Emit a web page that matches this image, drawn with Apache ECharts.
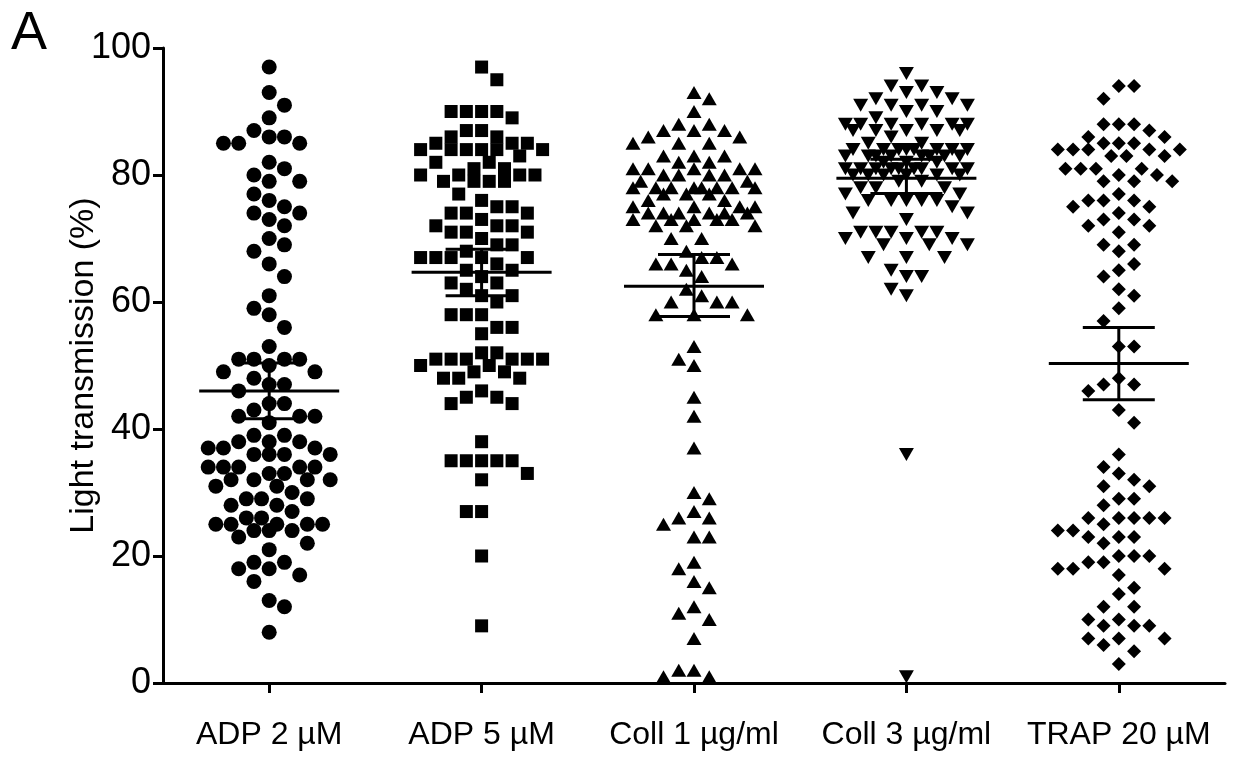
<!DOCTYPE html>
<html>
<head>
<meta charset="utf-8">
<script src="https://cdn.jsdelivr.net/npm/echarts@6/dist/echarts.min.js"></script>
<style>
  html, body { margin: 0; padding: 0; background: #fff; }
  #chart { width: 1252px; height: 759px; }
</style>
</head>
<body>
<div id="chart"></div>
<script>
// group labels
const groups = ["ADP 2 µM", "ADP 5 µM", "Coll 1 µg/ml", "Coll 3 µg/ml", "TRAP 20 µM"];

// light transmission (%) per donor
const adp2 = [97, 93, 91, 89, 87, 86, 86, 85, 85, 85, 82, 81, 80, 79, 79, 77, 76, 75, 74, 74, 73, 72, 70, 69, 68, 66, 64, 61, 59, 58, 56, 53,
  51, 51, 51, 51, 50, 49, 49, 48, 47, 47, 46, 44, 44, 43, 42, 42, 42, 41, 39, 39, 38, 38, 38, 37, 37, 37, 36, 36, 36, 36,
  34, 34, 34, 34, 34, 33, 33, 32, 32, 32, 32, 31, 31, 30, 29, 29, 29, 28, 28, 27, 26, 26, 25, 25, 25, 25, 25, 24, 24, 24,
  23, 22, 21, 19, 19, 18, 18, 17, 16, 13, 12, 8];
const adp5 = [97, 95, 90, 90, 90, 90, 89, 87, 87, 86, 86, 85, 85, 85, 84, 84, 84, 84, 84, 84, 83, 82, 82, 81, 81, 80, 80, 80, 80,
  79, 79, 79, 79, 77, 76, 75, 75, 74, 74, 74, 73, 72, 72, 72, 71, 71, 71, 70, 69, 69, 68, 67, 67, 67, 67, 67, 66, 65, 65,
  64, 63, 63, 62, 61, 61, 60, 58, 58, 58, 56, 56, 55, 52, 52, 51, 51, 51, 51, 51, 51, 50, 50, 49, 49, 48, 48, 48, 46, 45, 45,
  44, 44, 38, 35, 35, 35, 35, 35, 33, 32, 27, 27, 20, 9];
const coll1 = [93, 92, 90, 88, 88, 87, 87, 87, 86, 86, 85, 85, 85, 83, 83, 83, 82, 82, 81, 81, 81, 81, 81, 80, 80, 80, 80, 79, 79,
  78, 78, 78, 78, 78, 78, 78, 78, 77, 77, 77, 76, 76, 75, 75, 75, 75, 74, 74, 74, 74, 74, 74, 73, 73, 73, 73, 73, 72, 72, 72,
  70, 70, 68, 67, 67, 66, 66, 66, 65, 64, 62, 61, 60, 60, 60, 58, 58, 58, 53, 51, 50, 45, 42, 37, 30, 29, 27, 26, 26, 25,
  23, 23, 19, 18, 16, 15, 12, 11, 10, 7, 2, 2, 1, 1];
const coll3 = [96, 94, 94, 93, 93, 92, 92, 91, 91, 91, 91, 90, 90, 89, 88, 88, 88, 88, 88, 88, 87, 87, 87, 87, 87, 86, 85, 85,
  84, 84, 84, 84, 84, 84, 84, 84, 83, 83, 83, 83, 83, 83, 83, 83, 82, 82, 82, 81, 81, 81, 81, 81, 81, 81, 81, 81,
  80, 80, 80, 80, 80, 80, 79, 79, 78, 78, 78, 77, 77, 76, 76, 76, 76, 76, 75, 74, 74, 73, 71, 71, 71, 71, 71, 70, 70, 70,
  69, 69, 69, 67, 67, 67, 65, 64, 64, 62, 61, 36, 1];
const trap20 = [94, 94, 92, 88, 88, 88, 87, 86, 86, 85, 85, 85, 84, 84, 84, 84, 84, 83, 83, 83, 81, 81, 81, 81, 80, 80, 79, 79, 79,
  77, 76, 76, 76, 75, 75, 74, 73, 73, 72, 72, 71, 69, 69, 68, 66, 65, 64, 62, 61, 59, 57, 53, 53, 48, 47, 47, 46, 43, 41,
  36, 34, 33, 32, 31, 31, 29, 29, 28, 26, 26, 26, 26, 26, 25, 24, 24, 23, 23, 23, 22, 20, 20, 20, 19, 19, 18, 18, 18, 17,
  15, 14, 12, 12, 10, 10, 9, 9, 9, 7, 7, 7, 6, 5, 3];

// mean and error bar ends
const means = [46.0, 64.7, 62.5, 79.5, 50.3];
const errLow = [41.6, 61.0, 57.7, 77.1, 44.6];
const errHigh = [50.4, 68.3, 67.5, 82.5, 56.0];

const yTicks = [0, 20, 40, 60, 80, 100];

const values = [adp2, adp5, coll1, coll3, trap20];
const symbols = [
  { symbol: "circle", size: 15, rotate: 0 },
  { symbol: "rect", size: 13, rotate: 0 },
  { symbol: "triangle", size: [15, 13], rotate: 0 },
  { symbol: "triangle", size: [15, 13], rotate: 180 },
  { symbol: "diamond", size: [14, 14], rotate: 0 }
];

const W = 1252, H = 759;
const GRID = { left: 163, right: 27, top: 48, bottom: 76 };
const plotW = W - GRID.left - GRID.right;
const plotH = H - GRID.top - GRID.bottom;
const pxPerUnit = plotH / 100;
const catW = plotW / groups.length;
const slot = 15.25;

// simple beeswarm: place from the top down, nearest free half-slot to the centre
function swarm(vals) {
  const d = slot * 0.985;
  const maxHalf = 8;
  const placed = [];
  const order = vals.map((v, i) => ({ v, i })).sort((a, b) => b.v - a.v);
  const out = new Array(vals.length);
  let flip = 1;
  order.forEach(p => {
    const y = p.v * pxPerUnit;
    let best = 0, bestGap = -1;
    for (let k = 0; k <= maxHalf * 2; k++) {
      const step = k === 0 ? 0 : (k % 2 ? (k + 1) / 2 : -k / 2) * flip;
      const x = step * slot / 2;
      let minD = Infinity;
      placed.forEach(q => {
        const dd = Math.hypot(q.x - x, q.y - y);
        if (dd < minD) minD = dd;
      });
      if (minD >= d) { best = x; bestGap = minD; break; }
      if (minD > bestGap) { bestGap = minD; best = x; }
    }
    if (best !== 0) flip = -flip;
    placed.push({ x: best, y });
    out[p.i] = best / catW;
  });
  return out;
}

const font = "Liberation Sans";

const scatterSeries = values.map((vals, g) => {
  const offs = swarm(vals);
  return {
    type: "scatter",
    xAxisIndex: 1,
    symbol: symbols[g].symbol,
    symbolSize: symbols[g].size,
    symbolRotate: symbols[g].rotate,
    itemStyle: { color: "#000", opacity: 1 },
    silent: true,
    data: vals.map((v, i) => [g + 1 + offs[i], v])
  };
});

const barSeries = {
  type: "custom",
  xAxisIndex: 1,
  z: 5,
  silent: true,
  encode: { x: 0, y: [1, 2, 3] },
  data: means.map((m, g) => [g + 1, m, errLow[g], errHigh[g]]),
  renderItem: function (params, api) {
    const x = api.value(0);
    const pm = api.coord([x, api.value(1)]);
    const pl = api.coord([x, api.value(2)]);
    const ph = api.coord([x, api.value(3)]);
    const style = { stroke: "#000", lineWidth: 3 };
    return {
      type: "group",
      children: [
        { type: "line", shape: { x1: pm[0] - 70, y1: pm[1], x2: pm[0] + 70, y2: pm[1] }, style },
        { type: "line", shape: { x1: pl[0], y1: pl[1], x2: ph[0], y2: ph[1] }, style },
        { type: "line", shape: { x1: pl[0] - 36, y1: pl[1], x2: pl[0] + 36, y2: pl[1] }, style },
        { type: "line", shape: { x1: ph[0] - 36, y1: ph[1], x2: ph[0] + 36, y2: ph[1] }, style }
      ]
    };
  }
};

const chart = echarts.init(document.getElementById("chart"), null, { renderer: "canvas" });
chart.setOption({
  animation: false,
  backgroundColor: "#fff",
  title: {
    text: "A",
    left: 6,
    top: 2,
    textStyle: { fontFamily: font, fontSize: 54, fontWeight: "normal", color: "#000" }
  },
  grid: GRID,
  xAxis: [
    {
      type: "category",
      data: groups,
      boundaryGap: true,
      axisLine: { lineStyle: { color: "#000", width: 3 } },
      axisTick: { show: true, interval: 0, alignWithLabel: true, length: 10, lineStyle: { color: "#000", width: 3 } },
      axisLabel: { interval: 0, color: "#000", fontFamily: font, fontSize: 32, margin: 36 },
      splitLine: { show: false }
    },
    {
      type: "value",
      min: 0.5,
      max: 5.5,
      show: false
    }
  ],
  yAxis: {
    type: "value",
    min: 0,
    max: 100,
    interval: 20,
    name: "Light transmission (%)",
    nameLocation: "middle",
    nameGap: 62,
    nameMoveOverlap: false,
    nameTextStyle: { color: "#000", fontFamily: font, fontSize: 34 },
    axisLine: { show: true, lineStyle: { color: "#000", width: 3 } },
    axisTick: { show: true, length: 10, lineStyle: { color: "#000", width: 3 } },
    axisLabel: {
      color: "#000", fontFamily: font, fontSize: 36, margin: 12,
      formatter: v => (yTicks.indexOf(v) >= 0 ? String(v) : "")
    },
    splitLine: { show: false }
  },
  series: scatterSeries.concat([barSeries])
});
</script>
</body>
</html>
